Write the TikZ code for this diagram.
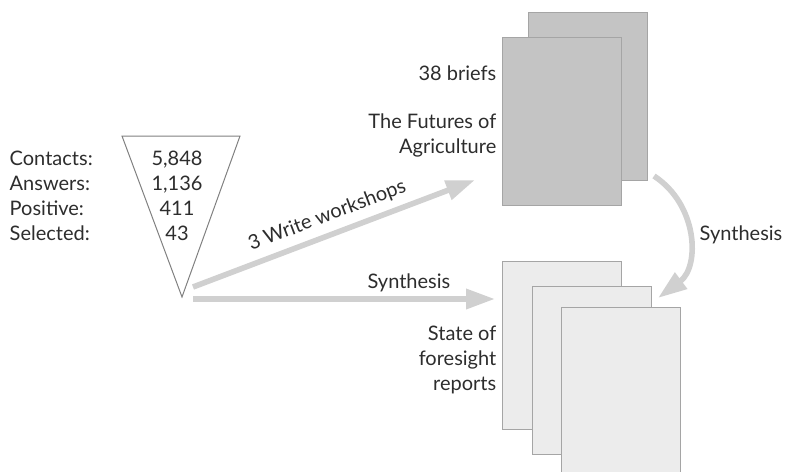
\documentclass[tikz,border=0pt]{standalone}
\usepackage{fontspec}
\setmainfont{Lato}
\usetikzlibrary{arrows.meta}
\definecolor{textGray}{RGB}{45,45,45}
\definecolor{flowGray}{RGB}{208,208,208}
\definecolor{funnelGray}{RGB}{128,128,128}
\definecolor{sheetEdge}{RGB}{165,165,165}
\definecolor{darkFill}{RGB}{196,196,196}
\definecolor{lightFill}{RGB}{236,236,236}

\begin{document}
\begin{tikzpicture}[x=0.75pt,y=-0.75pt,
  every node/.style={font=\fontsize{15}{18.75}\selectfont, text=textGray},
  darkSheet/.style={draw=sheetEdge, fill=darkFill, line width=0.8pt, inner sep=0pt,
    minimum width=89.25pt, minimum height=126pt, anchor=north west},
  lightSheet/.style={darkSheet, fill=lightFill},
  funnel/.style={draw=funnelGray, line width=0.75pt},
  flow/.style={-{Triangle[length=21.75pt,width=14.5pt]}, line width=4.2pt, draw=flowGray}]

\useasboundingbox (0,0) rectangle (795,471);

% The funnel and its counts
\coordinate (funnelLeft) at (122,136);
\coordinate (funnelRight) at (240,136);
\coordinate (funnelTip) at (182,297);
\draw[funnel] (funnelLeft) -- (funnelRight) -- (funnelTip) -- cycle;
\node[align=left, anchor=west] (funnelLabels) at (5,195.5) {Contacts:\\Answers:\\Positive:\\Selected:};
\node[align=center] (funnelCounts) at (177,195.5) {5,848\\1,136\\411\\43};

% Stacks of documents
\node[darkSheet] (briefsBack) at (528,12) {};
\node[darkSheet] (briefsFront) at (502,37) {};
\node[anchor=east] (briefsCount) at (501,73) {38 briefs};
\node[align=right, anchor=east] (briefsTitle) at (501,135) {The Futures of\\Agriculture};

\node[lightSheet] (reportA) at (502,261) {};
\node[lightSheet] (reportB) at (532,286) {};
\node[lightSheet] (reportC) at (561,307) {};
\node[align=right, anchor=east] (reportsTitle) at (501,360) {State of\\foresight\\reports};

% Draw the flows and label them.
\coordinate (workshopStart) at (193,287);
\coordinate (workshopEnd) at (475,180);
\draw[flow] (workshopStart) -- node[midway, sloped, above=2pt] (workshopLabel) {3 Write workshops} (workshopEnd);

\coordinate (synthStart) at (193,299);
\coordinate (synthEnd) at (495,299);
\draw[flow] (synthStart) -- node[pos=.715, above, inner sep=3pt] (synthLabel) {Synthesis} (synthEnd);

\coordinate (mergeStart) at (654,176);
\coordinate (mergeEnd) at (658,298);
\draw[flow] (mergeStart) to[bend left=55, looseness=1.1] (mergeEnd);
\node (mergeLabel) at (741,235) {Synthesis};

\end{tikzpicture}
\end{document}
